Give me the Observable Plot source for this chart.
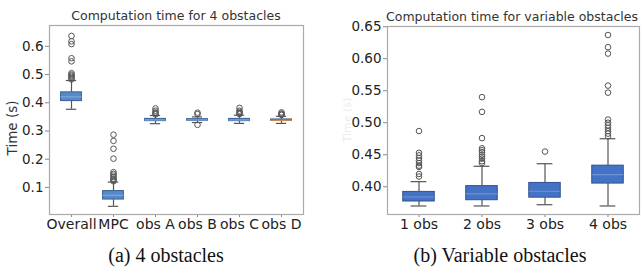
<!DOCTYPE html>
<html>
<head>
<meta charset="utf-8">
<script src="https://cdn.jsdelivr.net/npm/d3@7"></script>
<script src="https://cdn.jsdelivr.net/npm/@observablehq/plot@0.6"></script>
<style>
  html, body { margin: 0; padding: 0; background: #fff; }
  #wrap { position: relative; width: 642px; height: 272px; overflow: hidden; font-family: "DejaVu Sans", sans-serif; }
  .panel { position: absolute; top: 0; }
  .title { position: absolute; font-family: "DejaVu Sans", sans-serif; font-size: 12.5px; color: #333; white-space: nowrap; transform: translateX(-50%); }
  .caption { position: absolute; font-family: "Liberation Serif", "Times New Roman", serif; font-size: 20px; line-height: 22px; color: #111; white-space: nowrap; transform: translateX(-50%); }
  .ylab { position: absolute; font-size: 12px; white-space: nowrap; transform: translate(-50%, -50%) rotate(-90deg); }
</style>
</head>
<body>
<div id="wrap"></div>
<script>
// ---- Panel (a): 4 obstacles ----
const leftCats = ["Overall", "MPC", "obs A", "obs B", "obs C", "obs D"];
const leftQ1   = [0.406, 0.057, 0.335, 0.336, 0.335, 0.336];
const leftMed  = [0.421, 0.072, 0.339, 0.339, 0.339, 0.338];
const leftQ3   = [0.437, 0.087, 0.343, 0.342, 0.343, 0.341];
const leftLo   = [0.377, 0.033, 0.326, 0.330, 0.327, 0.327];
const leftHi   = [0.479, 0.119, 0.355, 0.350, 0.356, 0.352];
const leftOutliers = [
  [0.637, 0.618, 0.608, 0.558, 0.547, 0.505, 0.500, 0.496, 0.492, 0.487, 0.483],
  [0.287, 0.265, 0.237, 0.202, 0.154, 0.148, 0.142, 0.137, 0.131, 0.126, 0.122],
  [0.380, 0.372, 0.366, 0.362, 0.359],
  [0.365, 0.360, 0.322],
  [0.382, 0.372, 0.367, 0.363, 0.360],
  [0.366, 0.362, 0.359, 0.357]
];
const leftTicks = [0.1, 0.2, 0.3, 0.4, 0.5, 0.6];

// ---- Panel (b): variable obstacles ----
const rightCats = ["1 obs", "2 obs", "3 obs", "4 obs"];
const rightQ1   = [0.377, 0.379, 0.383, 0.405];
const rightMed  = [0.384, 0.389, 0.393, 0.419];
const rightQ3   = [0.392, 0.401, 0.406, 0.433];
const rightLo   = [0.370, 0.370, 0.372, 0.370];
const rightHi   = [0.408, 0.432, 0.436, 0.475];
const rightOutliers = [
  [0.487, 0.453, 0.449, 0.445, 0.441, 0.437, 0.433, 0.431, 0.420, 0.416],
  [0.540, 0.517, 0.476, 0.460, 0.457, 0.454, 0.450, 0.447, 0.444, 0.440, 0.437],
  [0.455],
  [0.637, 0.618, 0.608, 0.558, 0.547, 0.505, 0.500, 0.496, 0.492, 0.487, 0.483, 0.479]
];
const rightTicks = [0.40, 0.45, 0.50, 0.55, 0.60, 0.65];

function table(cats, q1, med, q3, lo, hi) {
  return cats.map((c, i) => ({cat: c, q1: q1[i], med: med[i], q3: q3[i], lo: lo[i], hi: hi[i]}));
}
function outlierRows(cats, outs) {
  return cats.flatMap((c, i) => outs[i].map(v => ({cat: c, v})));
}

function boxPanel({cats, rows, outs, domain, ticks, fmt, width, height, mL, mR, mT, mB, boxFill, boxStroke, medColor}) {
  const band = (width - mL - mR) / cats.length;
  const boxInset = band * 0.25;
  const capInset = band * 0.375;
  return Plot.plot({
    width, height,
    marginLeft: mL, marginRight: mR, marginTop: mT, marginBottom: mB,
    style: {fontFamily: "DejaVu Sans, sans-serif", fontSize: "13px", color: "#222", background: "transparent"},
    x: {type: "band", domain: cats, padding: 0, label: null},
    y: {domain, label: null},
    marks: [
      Plot.axisX({tickSize: 3, tickPadding: 2, stroke: "#888", fontSize: 14}),
      Plot.axisY({ticks, tickFormat: fmt, tickSize: 4, tickPadding: 2, stroke: "#888", fontSize: 13.5}),
      Plot.ruleX(rows, {x: "cat", y1: "lo", y2: "q1", stroke: "#555", strokeWidth: 1.2}),
      Plot.ruleX(rows, {x: "cat", y1: "q3", y2: "hi", stroke: "#555", strokeWidth: 1.2}),
      Plot.tickY(rows, {x: "cat", y: "lo", insetLeft: capInset, insetRight: capInset, stroke: "#555", strokeWidth: 1.2}),
      Plot.tickY(rows, {x: "cat", y: "hi", insetLeft: capInset, insetRight: capInset, stroke: "#555", strokeWidth: 1.2}),
      Plot.barY(rows, {x: "cat", y1: "q1", y2: "q3", insetLeft: boxInset, insetRight: boxInset, fill: boxFill, stroke: boxStroke, strokeWidth: 1}),
      Plot.tickY(rows, {x: "cat", y: "med", insetLeft: boxInset, insetRight: boxInset, stroke: d => medColor(d), strokeWidth: 1.2}),
      Plot.dot(outs, {x: "cat", y: "v", r: 2.8, stroke: "#555", fill: "none", strokeWidth: 1}),
      Plot.frame({stroke: "#aaa", strokeWidth: 1.2})
    ]
  });
}

const wrap = document.getElementById("wrap");

const left = boxPanel({
  cats: leftCats,
  rows: table(leftCats, leftQ1, leftMed, leftQ3, leftLo, leftHi),
  outs: outlierRows(leftCats, leftOutliers),
  domain: [0.004, 0.674], ticks: leftTicks, fmt: d3.format(".1f"),
  width: 321, height: 240, mL: 49, mR: 18, mT: 25, mB: 26,
  boxFill: "#5689c8", boxStroke: "#3a5f95",
  medColor: d => d.cat === "obs D" ? "#e08a3c" : "#7fa6dc"
});
left.classList.add("panel");
left.style.left = "0px";
wrap.appendChild(left);

const right = boxPanel({
  cats: rightCats,
  rows: table(rightCats, rightQ1, rightMed, rightQ3, rightLo, rightHi),
  outs: outlierRows(rightCats, rightOutliers),
  domain: [0.3567, 0.6503], ticks: rightTicks, fmt: d3.format(".2f"),
  width: 321, height: 240, mL: 66, mR: 3, mT: 26, mB: 26,
  boxFill: "#4472c4", boxStroke: "#2f528f",
  medColor: d => "#6f94d4"
});
right.classList.add("panel");
right.style.left = "321px";
wrap.appendChild(right);

function addText(cls, text, x, y, extra) {
  const el = document.createElement("div");
  el.className = cls;
  el.textContent = text;
  el.style.left = x + "px";
  el.style.top = y + "px";
  if (extra) Object.assign(el.style, extra);
  wrap.appendChild(el);
}
addText("title", "Computation time for 4 obstacles", 176, 8);
addText("title", "Computation time for variable obstacles", 512, 9);
addText("ylab", "Time (s)", 12, 128, {color: "#333", fontSize: "13.5px"});
addText("ylab", "Time (s)", 347, 120, {color: "#ececec", fontSize: "11px"});
addText("caption", "(a) 4 obstacles", 166, 244);
addText("caption", "(b) Variable obstacles", 500, 244);
</script>
</body>
</html>
